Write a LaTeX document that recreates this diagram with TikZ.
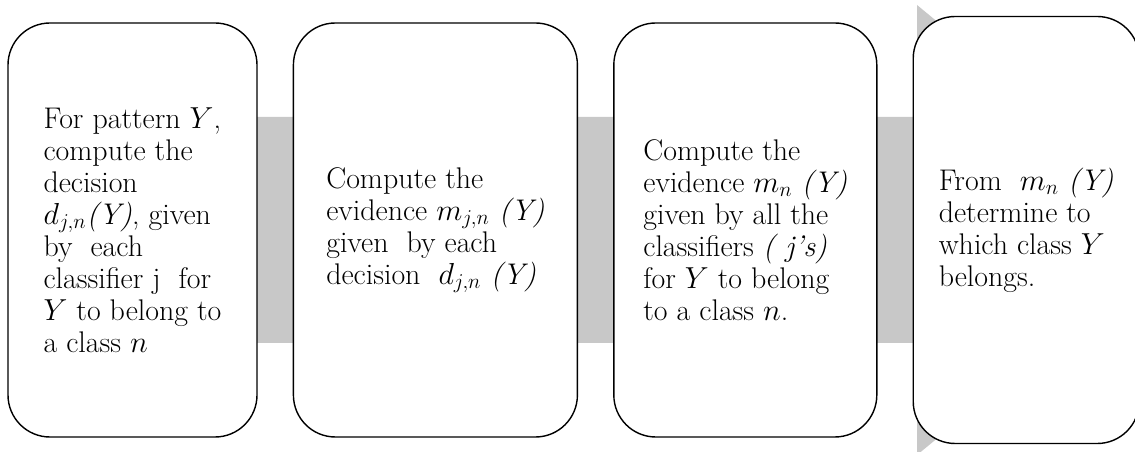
\documentclass[tikz,border=0pt]{standalone}
\usetikzlibrary{positioning}

\definecolor{bandgray}{RGB}{200,200,200}

\begin{document}
\begin{tikzpicture}[node distance=7mm,
    stage/.style={draw, line width=0.8pt, rounded corners=8.4mm, fill=white,
                  minimum height=8.28cm, align=left,
                  font=\fontsize{17}{18.2}\selectfont}]

            \useasboundingbox (0,0) rectangle (22.7,9.04);
            \clip (0,0) rectangle (22.7,9.04);

            % gray arrow behind the steps
            \fill[bandgray] (1,2.18) -- (18.34,2.18) -- (18.34,-0.06) -- (23.8,4.44)
                            -- (18.34,8.94) -- (18.34,6.70) -- (1,6.70) -- cycle;

            \node[stage, minimum width=4.98cm] (s1) at (2.65,4.44)
                {For pattern $Y$,\\ compute the\\ decision\\ $d_{j,n}$\textit{(Y)}, given\\
                 by\ \ each\\ classifier j\ \ for\\ $Y$ to belong to\\ a class $n$};

            \node[stage, minimum width=5.68cm] (s2) [right=of s1]
                {Compute the\\ evidence $m_{j,n}$ \textit{(Y)}\\ given\ \ by each\\
                 decision\ \ $d_{j,n}$ \textit{(Y)}};

            \node[stage, minimum width=5.26cm] (s3) [right=of s2]
                {Compute the\\ evidence $m_n$ \textit{(Y)}\\ given by all the\\
                 classifiers \textit{( j's)}\\ for $Y$ to belong\\ to a class $n$.};

            \node[stage, minimum width=4.52cm, minimum height=8.54cm] (s4) [right=of s3]
                {From\ \ $m_n$ \textit{(Y)}\\ determine to\\ which class $Y$\\ belongs.};

        \end{tikzpicture}
\end{document}
